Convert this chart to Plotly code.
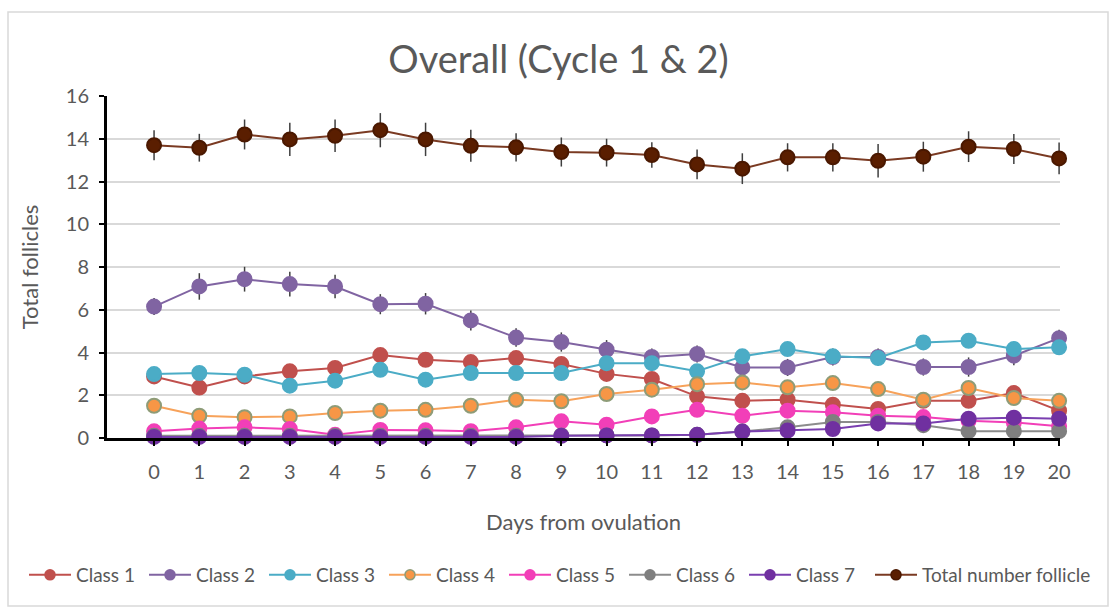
import plotly.graph_objects as go

# Days from ovulation
days = list(range(21))
day_labels = [str(d) for d in days]

# Mean follicle counts per class
class_1 = [2.88, 2.36, 2.88, 3.12, 3.28, 3.88, 3.66, 3.55, 3.74, 3.46, 3.0,
           2.76, 1.95, 1.74, 1.79, 1.56, 1.36, 1.74, 1.74, 2.1, 1.28]
class_2 = [6.15, 7.09, 7.43, 7.2, 7.09, 6.26, 6.28, 5.5, 4.7, 4.49, 4.13,
           3.79, 3.93, 3.3, 3.3, 3.79, 3.79, 3.32, 3.32, 3.85, 4.67]
class_3 = [2.99, 3.04, 2.96, 2.45, 2.68, 3.19, 2.73, 3.04, 3.04, 3.04, 3.5,
           3.5, 3.12, 3.82, 4.16, 3.82, 3.74, 4.47, 4.55, 4.16, 4.24]
class_4 = [1.51, 1.04, 0.97, 1.01, 1.17, 1.28, 1.32, 1.51, 1.79, 1.72, 2.06,
           2.26, 2.52, 2.6, 2.37, 2.57, 2.29, 1.79, 2.34, 1.87, 1.74]
class_5 = [0.31, 0.44, 0.5, 0.42, 0.15, 0.38, 0.36, 0.32, 0.5, 0.78, 0.62,
           1.01, 1.32, 1.04, 1.28, 1.2, 1.04, 0.98, 0.81, 0.73, 0.55]
class_6 = [0.1, 0.1, 0.1, 0.1, 0.1, 0.1, 0.1, 0.1, 0.1, 0.12, 0.12,
           0.12, 0.15, 0.3, 0.5, 0.75, 0.75, 0.6, 0.32, 0.32, 0.32]
class_7 = [0.05, 0.05, 0.05, 0.05, 0.05, 0.05, 0.05, 0.05, 0.05, 0.1, 0.12,
           0.12, 0.15, 0.3, 0.35, 0.42, 0.68, 0.68, 0.9, 0.95, 0.9]
total = [13.7, 13.58, 14.2, 13.97, 14.14, 14.4, 13.97, 13.67, 13.6, 13.38, 13.35,
         13.24, 12.8, 12.6, 13.13, 13.13, 12.97, 13.16, 13.63, 13.52, 13.08]

# Standard errors
total_err = [0.7, 0.65, 0.7, 0.78, 0.76, 0.8, 0.78, 0.75, 0.66, 0.68, 0.65,
             0.6, 0.7, 0.72, 0.66, 0.66, 0.78, 0.7, 0.72, 0.7, 0.74]
class_2_err = [0.4, 0.62, 0.58, 0.58, 0.55, 0.47, 0.5, 0.47, 0.43, 0.45, 0.45,
               0.4, 0.4, 0.4, 0.4, 0.4, 0.4, 0.4, 0.45, 0.45, 0.4]
class_1_err = [0.25] * 21
class_3_err = [0.25] * 21
class_4_err = [0.15] * 21
class_5_err = [0.1] * 21
class_6_err = [0.08] * 21
class_7_err = [0.08] * 21

series = [
    ("Class 1", class_1, class_1_err, "#C0504D", "#C0504D", "#C0504D"),
    ("Class 2", class_2, class_2_err, "#8064A2", "#8064A2", "#8064A2"),
    ("Class 3", class_3, class_3_err, "#4BACC6", "#4BACC6", "#4BACC6"),
    ("Class 4", class_4, class_4_err, "#F7A25A", "#F79646", "#8E9C78"),
    ("Class 5", class_5, class_5_err, "#F23FB8", "#F23FB8", "#F23FB8"),
    ("Class 6", class_6, class_6_err, "#8C8C8C", "#7F7F7F", "#7F7F7F"),
    ("Class 7", class_7, class_7_err, "#7A3FB0", "#7030A0", "#7030A0"),
    ("Total number follicle", total, total_err, "#7A3A22", "#5A1E00", "#4A1800"),
]

fig = go.Figure()
for name, vals, errs, line_c, fill_c, edge_c in series:
    fig.add_trace(go.Scatter(
        x=days, y=vals, name=name, mode="lines+markers", showlegend=False,
        legendgroup=name,
        line=dict(color=line_c, width=2),
        marker=dict(size=14, color=fill_c, line=dict(color=edge_c, width=2)),
        error_y=dict(type="data", array=errs, visible=True,
                     color="#3F3F3F", thickness=1.5, width=0),
        cliponaxis=False,
    ))

# Legend keys with smaller markers than the plotted points;
# the long "Total" label sits in its own legend so it is not cut to the fixed entry width
for i, (name, vals, errs, line_c, fill_c, edge_c) in enumerate(series):
    fig.add_trace(go.Scatter(
        x=[None], y=[None], name=name, mode="lines+markers", legendgroup=name,
        legend="legend2" if i == len(series) - 1 else "legend",
        line=dict(color=line_c, width=2),
        marker=dict(size=10, color=fill_c, line=dict(color=edge_c, width=1.5)),
    ))

font_family = "Lato, Open Sans, sans-serif"
text_grey = "#595959"

# plot area in pixels: x 107..1060, y 96..438
plot_w, plot_h = 953, 342
legend_y = (438 - 575) / plot_h

fig.update_layout(
    width=1117, height=611,
    margin=dict(l=107, r=57, t=96, b=173),
    paper_bgcolor="white", plot_bgcolor="white",
    font=dict(family=font_family, color=text_grey, size=20),
    title=dict(text="Overall (Cycle 1 &amp; 2)", x=0.5, xanchor="center",
               y=1 - 60 / 611, yanchor="middle", yref="container",
               font=dict(size=38, color=text_grey, family=font_family)),
    showlegend=True,
    legend=dict(orientation="h", xref="paper", yref="paper",
                x=(24 - 107) / plot_w, xanchor="left",
                y=legend_y, yanchor="middle",
                font=dict(size=19, color=text_grey), itemwidth=42,
                entrywidth=63, entrywidthmode="pixels",
                traceorder="normal", tracegroupgap=0),
    legend2=dict(orientation="h", xref="paper", yref="paper",
                 x=(870 - 107) / plot_w, xanchor="left",
                 y=legend_y, yanchor="middle",
                 font=dict(size=19, color=text_grey), itemwidth=42,
                 bgcolor="rgba(0,0,0,0)"),
    shapes=[dict(type="rect", xref="paper", yref="paper",
                 x0=(8 - 107) / plot_w, x1=(1108 - 107) / plot_w,
                 y0=(438 - 606) / plot_h, y1=(438 - 12) / plot_h,
                 line=dict(color="#D9D9D9", width=1.5), layer="below")],
)

fig.update_xaxes(
    range=[-1.04, 20.02], tickvals=days, ticktext=day_labels,
    showgrid=False, zeroline=False,
    showline=True, linecolor="black", linewidth=3,
    ticks="outside", ticklen=5, tickcolor="black", tickwidth=2,
    ticklabelstandoff=9, tickfont=dict(size=20, color=text_grey),
    title=dict(text="Days from ovulation", standoff=33,
               font=dict(size=22, color=text_grey)),
)
fig.update_yaxes(
    range=[0, 16], dtick=2,
    showgrid=True, gridcolor="#D9D9D9", gridwidth=1.5, zeroline=False,
    showline=True, linecolor="black", linewidth=3,
    ticks="outside", ticklen=5, tickcolor="black", tickwidth=2,
    ticklabelstandoff=6, tickfont=dict(size=20, color=text_grey),
    title=dict(text="Total follicles", standoff=22,
               font=dict(size=22, color=text_grey)),
)

fig.write_html("out.html")
